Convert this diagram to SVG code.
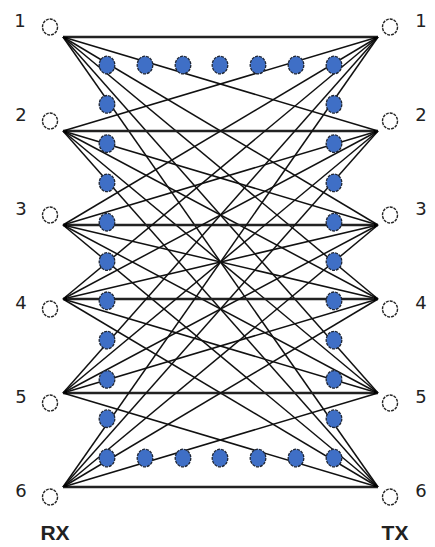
<svg xmlns="http://www.w3.org/2000/svg" width="435" height="547" viewBox="0 0 435 547">
<style>
.c{stroke:#111;stroke-width:1.5;fill:none}
.h{stroke:#222;stroke-width:2.4;fill:none}
.dot{fill:#3f6fc6;stroke:#1e2533;stroke-width:1.3;stroke-dasharray:3 1}
.port{fill:#fff;stroke:#222;stroke-width:1.4;stroke-dasharray:3 1}
.j{fill:#000}
.lb{font-family:"DejaVu Sans",Verdana,sans-serif;font-size:18px;fill:#222;text-anchor:middle}
.big{font-family:"Liberation Sans",Arial,sans-serif;font-size:21px;font-weight:bold;fill:#222;text-anchor:middle}
</style>
<rect width="435" height="547" fill="#fff"/>
<g id="connectors">
<line class="h" x1="63" y1="37" x2="378" y2="37"/>
<line class="c" x1="63" y1="37" x2="378" y2="131"/>
<line class="c" x1="63" y1="37" x2="378" y2="225"/>
<line class="c" x1="63" y1="37" x2="378" y2="299"/>
<line class="c" x1="63" y1="37" x2="378" y2="393"/>
<line class="c" x1="63" y1="37" x2="378" y2="487"/>
<line class="c" x1="63" y1="131" x2="378" y2="37"/>
<line class="h" x1="63" y1="131" x2="378" y2="131"/>
<line class="c" x1="63" y1="131" x2="378" y2="225"/>
<line class="c" x1="63" y1="131" x2="378" y2="299"/>
<line class="c" x1="63" y1="131" x2="378" y2="393"/>
<line class="c" x1="63" y1="131" x2="378" y2="487"/>
<line class="c" x1="63" y1="225" x2="378" y2="37"/>
<line class="c" x1="63" y1="225" x2="378" y2="131"/>
<line class="h" x1="63" y1="225" x2="378" y2="225"/>
<line class="c" x1="63" y1="225" x2="378" y2="299"/>
<line class="c" x1="63" y1="225" x2="378" y2="393"/>
<line class="c" x1="63" y1="225" x2="378" y2="487"/>
<line class="c" x1="63" y1="299" x2="378" y2="37"/>
<line class="c" x1="63" y1="299" x2="378" y2="131"/>
<line class="c" x1="63" y1="299" x2="378" y2="225"/>
<line class="h" x1="63" y1="299" x2="378" y2="299"/>
<line class="c" x1="63" y1="299" x2="378" y2="393"/>
<line class="c" x1="63" y1="299" x2="378" y2="487"/>
<line class="c" x1="63" y1="393" x2="378" y2="37"/>
<line class="c" x1="63" y1="393" x2="378" y2="131"/>
<line class="c" x1="63" y1="393" x2="378" y2="225"/>
<line class="c" x1="63" y1="393" x2="378" y2="299"/>
<line class="h" x1="63" y1="393" x2="378" y2="393"/>
<line class="c" x1="63" y1="393" x2="378" y2="487"/>
<line class="c" x1="63" y1="487" x2="378" y2="37"/>
<line class="c" x1="63" y1="487" x2="378" y2="131"/>
<line class="c" x1="63" y1="487" x2="378" y2="225"/>
<line class="c" x1="63" y1="487" x2="378" y2="299"/>
<line class="c" x1="63" y1="487" x2="378" y2="393"/>
<line class="h" x1="63" y1="487" x2="378" y2="487"/>
</g>
<g id="junctions">
<polygon class="j" points="63,37 68,37 65.9,41.1"/>
<polygon class="j" points="63,131 67.8,129.6 66.3,134.7"/>
<polygon class="j" points="63,225 67.3,222.4 66.8,228.2"/>
<polygon class="j" points="63,299 66.8,295.8 67.3,301.6"/>
<polygon class="j" points="63,393 66.3,389.3 67.8,394.4"/>
<polygon class="j" points="63,487 65.9,482.9 68,487"/>
<polygon class="j" points="378,37 373,37 375.1,41.1"/>
<polygon class="j" points="378,131 373.2,129.6 374.7,134.7"/>
<polygon class="j" points="378,225 373.7,222.4 374.2,228.2"/>
<polygon class="j" points="378,299 374.2,295.8 373.7,301.6"/>
<polygon class="j" points="378,393 374.7,389.3 373.2,394.4"/>
<polygon class="j" points="378,487 375.1,482.9 373,487"/>
</g>
<g id="dots">
<ellipse class="dot" cx="107" cy="65" rx="7.8" ry="8.8"/>
<ellipse class="dot" cx="145" cy="65" rx="7.8" ry="8.8"/>
<ellipse class="dot" cx="183" cy="65" rx="7.8" ry="8.8"/>
<ellipse class="dot" cx="220" cy="65" rx="7.8" ry="8.8"/>
<ellipse class="dot" cx="258" cy="65" rx="7.8" ry="8.8"/>
<ellipse class="dot" cx="296" cy="65" rx="7.8" ry="8.8"/>
<ellipse class="dot" cx="334" cy="65" rx="7.8" ry="8.8"/>
<ellipse class="dot" cx="107" cy="458" rx="7.8" ry="8.8"/>
<ellipse class="dot" cx="145" cy="458" rx="7.8" ry="8.8"/>
<ellipse class="dot" cx="183" cy="458" rx="7.8" ry="8.8"/>
<ellipse class="dot" cx="220" cy="458" rx="7.8" ry="8.8"/>
<ellipse class="dot" cx="258" cy="458" rx="7.8" ry="8.8"/>
<ellipse class="dot" cx="296" cy="458" rx="7.8" ry="8.8"/>
<ellipse class="dot" cx="334" cy="458" rx="7.8" ry="8.8"/>
<ellipse class="dot" cx="107" cy="104.3" rx="7.8" ry="8.8"/>
<ellipse class="dot" cx="107" cy="143.6" rx="7.8" ry="8.8"/>
<ellipse class="dot" cx="107" cy="182.9" rx="7.8" ry="8.8"/>
<ellipse class="dot" cx="107" cy="222.2" rx="7.8" ry="8.8"/>
<ellipse class="dot" cx="107" cy="261.5" rx="7.8" ry="8.8"/>
<ellipse class="dot" cx="107" cy="300.8" rx="7.8" ry="8.8"/>
<ellipse class="dot" cx="107" cy="340.1" rx="7.8" ry="8.8"/>
<ellipse class="dot" cx="107" cy="379.4" rx="7.8" ry="8.8"/>
<ellipse class="dot" cx="107" cy="418.7" rx="7.8" ry="8.8"/>
<ellipse class="dot" cx="334" cy="104.3" rx="7.8" ry="8.8"/>
<ellipse class="dot" cx="334" cy="143.6" rx="7.8" ry="8.8"/>
<ellipse class="dot" cx="334" cy="182.9" rx="7.8" ry="8.8"/>
<ellipse class="dot" cx="334" cy="222.2" rx="7.8" ry="8.8"/>
<ellipse class="dot" cx="334" cy="261.5" rx="7.8" ry="8.8"/>
<ellipse class="dot" cx="334" cy="300.8" rx="7.8" ry="8.8"/>
<ellipse class="dot" cx="334" cy="340.1" rx="7.8" ry="8.8"/>
<ellipse class="dot" cx="334" cy="379.4" rx="7.8" ry="8.8"/>
<ellipse class="dot" cx="334" cy="418.7" rx="7.8" ry="8.8"/>
</g>
<g id="rx-ports">
<g id="rx1"><ellipse class="port" cx="50" cy="27" rx="7.5" ry="8"/><text class="lb" x="20" y="26.5">1</text></g>
<g id="rx2"><ellipse class="port" cx="50" cy="121" rx="7.5" ry="8"/><text class="lb" x="21" y="120.5">2</text></g>
<g id="rx3"><ellipse class="port" cx="50" cy="215" rx="7.5" ry="8"/><text class="lb" x="21" y="214.5">3</text></g>
<g id="rx4"><ellipse class="port" cx="50" cy="309" rx="7.5" ry="8"/><text class="lb" x="21" y="308.5">4</text></g>
<g id="rx5"><ellipse class="port" cx="50" cy="403" rx="7.5" ry="8"/><text class="lb" x="21" y="402.5">5</text></g>
<g id="rx6"><ellipse class="port" cx="50" cy="497" rx="7.5" ry="8"/><text class="lb" x="21" y="496.5">6</text></g>
<text id="rx-label" class="big" x="55" y="540">RX</text>
</g>
<g id="tx-ports">
<g id="tx1"><ellipse class="port" cx="390" cy="27" rx="7.5" ry="8"/><text class="lb" x="421" y="26.5">1</text></g>
<g id="tx2"><ellipse class="port" cx="390" cy="121" rx="7.5" ry="8"/><text class="lb" x="421" y="120.5">2</text></g>
<g id="tx3"><ellipse class="port" cx="390" cy="215" rx="7.5" ry="8"/><text class="lb" x="421" y="214.5">3</text></g>
<g id="tx4"><ellipse class="port" cx="390" cy="309" rx="7.5" ry="8"/><text class="lb" x="421" y="308.5">4</text></g>
<g id="tx5"><ellipse class="port" cx="390" cy="403" rx="7.5" ry="8"/><text class="lb" x="421" y="402.5">5</text></g>
<g id="tx6"><ellipse class="port" cx="390" cy="497" rx="7.5" ry="8"/><text class="lb" x="421" y="496.5">6</text></g>
<text id="tx-label" class="big" x="395" y="540">TX</text>
</g>
</svg>
